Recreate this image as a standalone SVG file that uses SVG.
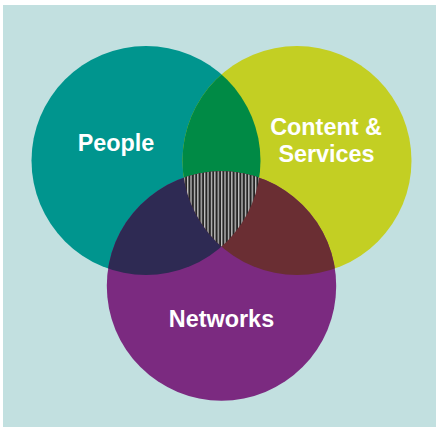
<svg xmlns="http://www.w3.org/2000/svg" width="436" height="427" viewBox="0 0 436 427">
  <style>
    .lbl { font-family: "Liberation Sans", Arial, sans-serif; font-weight: bold; font-size: 23.4px; fill: #ffffff; text-anchor: middle; }
  </style>
  <defs>
    <clipPath id="cpPeople"><circle cx="146" cy="160.5" r="114.5"/></clipPath>
    <clipPath id="cpContent"><circle cx="297" cy="160.5" r="114.5"/></clipPath>
    <pattern id="stripes" patternUnits="userSpaceOnUse" x="0" y="0" width="3.4" height="10">
      <rect x="0" y="0" width="3.4" height="10" fill="#262626"/>
      <rect x="0" y="0" width="1.3" height="10" fill="#c4c4c4"/>
    </pattern>
  </defs>
  <rect x="3" y="5" width="433" height="422" fill="#c2e0e0"/>
  <g id="people">
    <circle cx="146" cy="160.5" r="114.5" fill="#00958e"/>
  </g>
  <g id="content">
    <circle cx="297" cy="160.5" r="114.5" fill="#c3cf23"/>
  </g>
  <g id="networks">
    <circle cx="221.5" cy="286" r="114.7" fill="#7b2a80"/>
  </g>
  <g id="overlaps">
    <circle cx="297" cy="160.5" r="114.5" fill="#008a45" clip-path="url(#cpPeople)"/>
    <circle cx="221.5" cy="286" r="114.7" fill="#2e2a53" clip-path="url(#cpPeople)"/>
    <circle cx="221.5" cy="286" r="114.7" fill="#6a2e33" clip-path="url(#cpContent)"/>
    <g clip-path="url(#cpPeople)">
      <circle cx="221.5" cy="286" r="114.7" fill="url(#stripes)" clip-path="url(#cpContent)"/>
    </g>
  </g>
  <g id="labels">
    <text class="lbl" x="116" y="151">People</text>
    <text class="lbl" x="326" y="135">Content &amp;</text>
    <text class="lbl" x="326.5" y="162">Services</text>
    <text class="lbl" x="221.5" y="327">Networks</text>
  </g>
</svg>
